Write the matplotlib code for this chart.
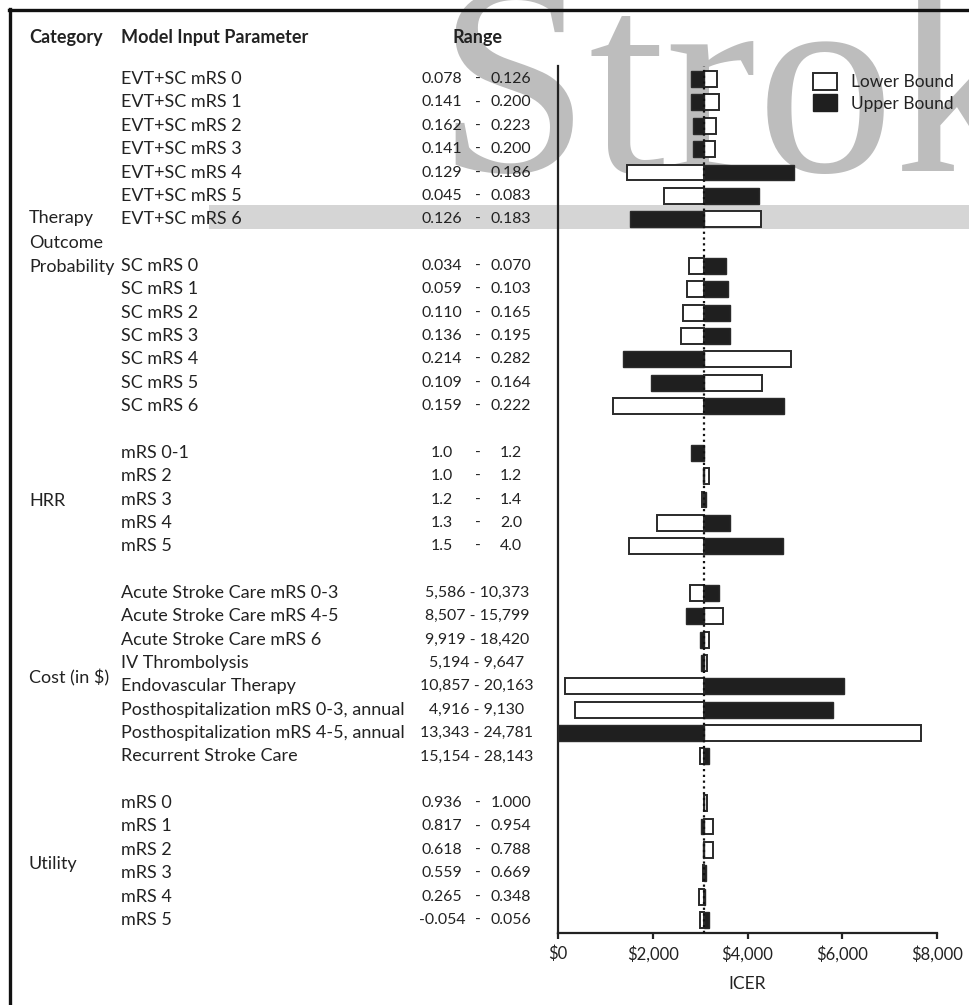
import matplotlib
matplotlib.use('Agg')
import matplotlib.pyplot as plt
from matplotlib.transforms import blended_transform_factory
from matplotlib.patches import Rectangle, Patch
from matplotlib.lines import Line2D

plt.rcParams['font.family'] = ['Lato', 'DejaVu Sans']

# ---------------- data ----------------
base_icer = 3090

params = [
    "EVT+SC mRS 0", "EVT+SC mRS 1", "EVT+SC mRS 2", "EVT+SC mRS 3",
    "EVT+SC mRS 4", "EVT+SC mRS 5", "EVT+SC mRS 6", "",
    "SC mRS 0", "SC mRS 1", "SC mRS 2", "SC mRS 3", "SC mRS 4", "SC mRS 5", "SC mRS 6", "",
    "mRS 0-1", "mRS 2", "mRS 3", "mRS 4", "mRS 5", "",
    "Acute Stroke Care mRS 0-3", "Acute Stroke Care mRS 4-5", "Acute Stroke Care mRS 6",
    "IV Thrombolysis", "Endovascular Therapy", "Posthospitalization mRS 0-3, annual",
    "Posthospitalization mRS 4-5, annual", "Recurrent Stroke Care", "",
    "mRS 0", "mRS 1", "mRS 2", "mRS 3", "mRS 4", "mRS 5",
]

range_low = [
    "0.078", "0.141", "0.162", "0.141", "0.129", "0.045", "0.126", "",
    "0.034", "0.059", "0.110", "0.136", "0.214", "0.109", "0.159", "",
    "1.0", "1.0", "1.2", "1.3", "1.5", "",
    "5,586", "8,507", "9,919", "5,194", "10,857", "4,916", "13,343", "15,154", "",
    "0.936", "0.817", "0.618", "0.559", "0.265", "-0.054",
]
range_high = [
    "0.126", "0.200", "0.223", "0.200", "0.186", "0.083", "0.183", "",
    "0.070", "0.103", "0.165", "0.195", "0.282", "0.164", "0.222", "",
    "1.2", "1.2", "1.4", "2.0", "4.0", "",
    "10,373", "15,799", "18,420", "9,647", "20,163", "9,130", "24,781", "28,143", "",
    "1.000", "0.954", "0.788", "0.669", "0.348", "0.056",
]
# row style: 'p' = value - value columns, 'c' = cost string, '' = blank row
row_kind = (["p"] * 7 + [""] + ["p"] * 7 + [""] + ["p"] * 5 + [""] +
            ["c"] * 8 + [""] + ["p"] * 6)

icer_lower = [
    3363, 3398, 3335, 3314, 1456, 2237, 4278, None,
    2765, 2723, 2645, 2603, 4912, 4300, 1168, None,
    3090, 3180, 3050, 2083, 1492, None,
    2786, 3476, 3194, 3150, 155, 366, 7662, 2997, None,
    3150, 3278, 3278, 3060, 2985, 3005,
]
icer_upper = [
    2801, 2801, 2843, 2843, 4988, 4243, 1527, None,
    3546, 3588, 3631, 3631, 1365, 1963, 4777, None,
    2801, 3060, 3120, 3631, 4743, None,
    3405, 2695, 2990, 3020, 6037, 5812, 0, 3181, None,
    3085, 3012, 3060, 3120, 3110, 3180,
]

categories = ["Therapy", "Outcome", "Probability", "HRR", "Cost (in $)", "Utility"]
xticks = [0, 2000, 4000, 6000, 8000]
xtick_labels = ["$0", "$2,000", "$4,000", "$6,000", "$8,000"]

# ---------------- layout ----------------
W, H = 969, 1005
fig = plt.figure(figsize=(W / 100, H / 100), dpi=100)

def fx(x):
    return x / W

def fy(y):
    return 1 - y / H

ax_left, ax_right, ax_top, ax_bot = 558, 937, 66, 933
ax = fig.add_axes([fx(ax_left), fy(ax_bot), fx(ax_right - ax_left), (ax_bot - ax_top) / H])
ax.patch.set_visible(False)

n = len(params)
ax.set_ylim(n - 1 + 0.56, -0.56)
ax.set_xlim(0, 8000)

dark = "#1f1f1f"
edge = "#2a2a2a"
bar_h = 0.68

for i in range(n):
    if icer_lower[i] is None:
        continue
    lo = icer_lower[i]
    up = icer_upper[i]
    ax.barh(i, lo - base_icer, left=base_icer, height=bar_h, color="white",
            edgecolor=edge, linewidth=1.4, zorder=3)
    ax.barh(i, up - base_icer, left=base_icer, height=bar_h, color=dark,
            edgecolor=edge, linewidth=1.0, zorder=3)

ax.axvline(base_icer, color="#111111", lw=1.6, ls=(0, (1, 1.6)), zorder=4)

for s in ["top", "right"]:
    ax.spines[s].set_visible(False)
for s in ["left", "bottom"]:
    ax.spines[s].set_linewidth(1.6)
    ax.spines[s].set_color("#222222")
ax.set_yticks([])
ax.set_xticks(xticks)
ax.set_xticklabels(xtick_labels, fontsize=12, color="#222222")
ax.tick_params(axis="x", direction="out", length=4, width=1.6, color="#222222", pad=5)
ax.set_xlabel("ICER", fontsize=12.5, color="#222222", labelpad=10)

# watermark and highlight band (behind everything)
fig.text(fx(437), fy(171), "Strok", fontsize=198, family="Liberation Serif",
         color="#bdbdbd", va="baseline", ha="left", zorder=-2)
fig.patches.append(Rectangle((fx(209), fy(229)), fx(W - 209), 24 / H,
                             transform=fig.transFigure, facecolor="#d5d5d5",
                             edgecolor="none", zorder=-1))

# frame lines
fig.add_artist(Line2D([fx(9), 1], [fy(10.5), fy(10.5)], color="#111111", lw=2.4,
                      transform=fig.transFigure))
fig.add_artist(Line2D([fx(10), fx(10)], [fy(9.5), 0], color="#111111", lw=2.4,
                      transform=fig.transFigure))

# headers
hy = fy(38)
tc = "#222222"
fs = 13
fn = 11.4
fig.text(fx(29), hy, "Category", fontsize=fs, fontweight="bold", color=tc, va="center")
fig.text(fx(121), hy, "Model Input Parameter", fontsize=fs, fontweight="bold", color=tc, va="center")
fig.text(fx(477), hy, "Range", fontsize=fs, fontweight="bold", color=tc, va="center", ha="center")

tr = blended_transform_factory(fig.transFigure, ax.transData)
for i in range(n):
    if not params[i]:
        continue
    fig.text(fx(121), i, params[i], transform=tr, fontsize=fs, color=tc, va="center")
    if row_kind[i] == "c":
        fig.text(fx(477), i, f"{range_low[i]} - {range_high[i]}", transform=tr,
                 fontsize=fn, color=tc, va="center", ha="center")
    else:
        fig.text(fx(442), i, range_low[i], transform=tr, fontsize=fn, color=tc,
                 va="center", ha="center")
        fig.text(fx(478), i, "-", transform=tr, fontsize=fn, color=tc,
                 va="center", ha="center")
        fig.text(fx(511), i, range_high[i], transform=tr, fontsize=fn, color=tc,
                 va="center", ha="center")

cat_rows = [5.95, 7.0, 8.05, 18.05, 25.65, 33.6]
for lab, r in zip(categories, cat_rows):
    fig.text(fx(29), r, lab, transform=tr, fontsize=fs, color=tc, va="center")

# legend
leg = fig.legend(handles=[Patch(facecolor="white", edgecolor=edge, linewidth=1.4),
                          Patch(facecolor=dark, edgecolor=dark)],
                 labels=["Lower Bound", "Upper Bound"], loc="upper left",
                 bbox_to_anchor=(fx(806), fy(66)), frameon=False, fontsize=12.5,
                 handlelength=1.4, handleheight=1.15, handletextpad=0.8,
                 labelspacing=0.22, borderaxespad=0)
for t in leg.get_texts():
    t.set_color(tc)

fig.savefig("out.png", dpi=100)
